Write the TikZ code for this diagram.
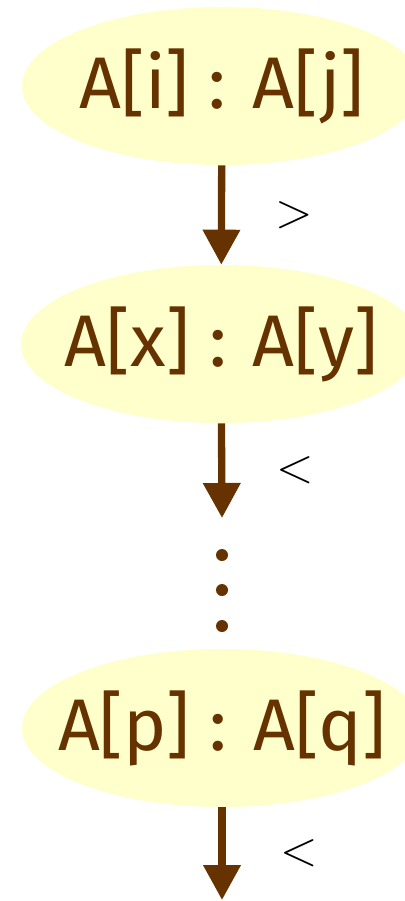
\documentclass[tikz,border=0pt]{standalone}
\usepackage{fontspec}
\setsansfont{Fira Sans}
\usepackage{tikz}
\usetikzlibrary{positioning,arrows.meta,shapes.geometric}
\usepackage{xcolor}
\definecolor{cmpbrown}{HTML}{663300}
\definecolor{cmpfill}{HTML}{FFFFCC}

\begin{document}
\begin{tikzpicture}[x=0.025cm,y=-0.025cm,>={Triangle[length=8.75mm,width=9mm]},
  cmp/.style={ellipse,fill=cmpfill,inner sep=-24pt,minimum width=10cm,minimum height=3.95cm,
    text=cmpbrown,font=\sffamily\fontsize{52}{56}\selectfont},
  arr/.style={->,cmpbrown,line width=5.2pt},
  rel/.style={text=black,font=\rmfamily\fontsize{35}{38}\selectfont}]
\useasboundingbox (0,0) rectangle (405,901);
\node[cmp] (top) at (222,86) {A[i] : A[j]};
\node[cmp] (mid) at (221,344) {A[x] : A[y]};
\node[cmp] (bot) at (222,728) {A[p] : A[q]};
\coordinate (gap) at (222,518);
\coordinate (end) at (222,900);
\draw[arr] (top) -- (mid) node[rel,midway,right=1.15cm]{>};
\draw[arr] (mid) -- (gap) node[rel,midway,right=1.15cm]{<};
\draw[arr] (bot) -- (end) node[rel,midway,right=1.25cm]{<};
\foreach \y in {555,590,626}
  \fill[cmpbrown] (222,\y) circle (0.15cm);
\end{tikzpicture}
\end{document}
